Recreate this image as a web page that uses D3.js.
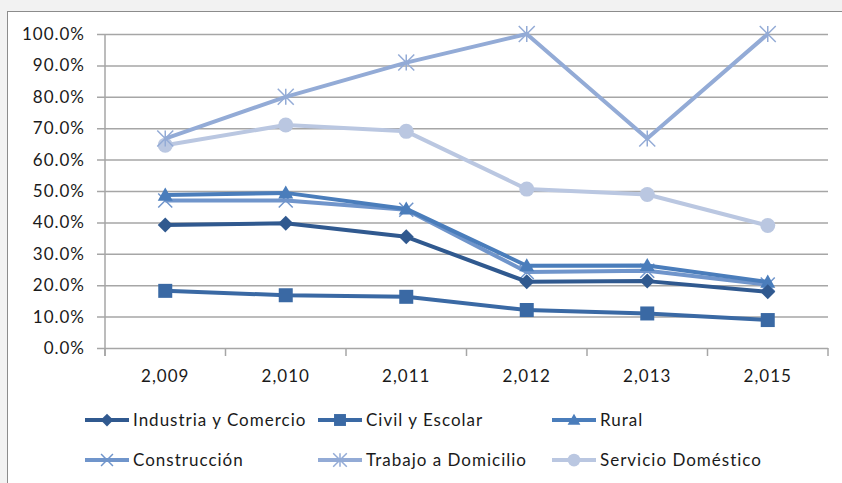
<!DOCTYPE html>
<html>
<head>
<meta charset="utf-8">
<script src="https://cdn.jsdelivr.net/npm/d3@7"></script>
<style>
  body { margin: 0; background: #f2f2f2; }
  text { font-family: Lato, "Open Sans", sans-serif; fill: #1a1a1a; }
</style>
</head>
<body>
<div id="chart"></div>
<script>
// data
const years = ["2,009", "2,010", "2,011", "2,012", "2,013", "2,015"];
const industria = [39.2, 39.7, 35.4, 21.1, 21.3, 17.9];
const civil = [18.2, 16.8, 16.3, 12.1, 11.0, 8.9];
const rural = [48.7, 49.4, 44.3, 26.2, 26.3, 21.0];
const construccion = [47.0, 47.0, 44.0, 24.2, 24.6, 20.2];
const trabajo = [66.7, 80.0, 90.9, 100.0, 66.7, 100.0];
const servicio = [64.6, 71.0, 69.0, 50.6, 48.9, 39.0];
const yTicks = [0, 10, 20, 30, 40, 50, 60, 70, 80, 90, 100];

const series = [
  { name: "Industria y Comercio", values: industria, color: "#30598f", marker: "diamond" },
  { name: "Civil y Escolar", values: civil, color: "#3a69a4", marker: "square" },
  { name: "Rural", values: rural, color: "#4a7dbb", marker: "triangle" },
  { name: "Construcción", values: construccion, color: "#7095cb", marker: "x" },
  { name: "Trabajo a Domicilio", values: trabajo, color: "#93abd6", marker: "star" },
  { name: "Servicio Doméstico", values: servicio, color: "#bac7e1", marker: "circle" }
];

const W = 842, H = 483;
const margin = { top: 34, right: 14, bottom: 135, left: 105 };
const width = 828 - margin.left;
const height = 348 - margin.top;

const svg = d3.select("#chart").append("svg")
  .attr("width", W).attr("height", H);

// chart frame
svg.append("rect")
  .attr("x", 7.5).attr("y", 11.5)
  .attr("width", W).attr("height", H)
  .attr("fill", "#fff")
  .attr("stroke", "#8c8c8c");

const g = svg.append("g")
  .attr("transform", "translate(" + margin.left + "," + margin.top + ")");

const x = d3.scaleBand().domain(years).range([0, width]);
const y = d3.scaleLinear().domain([0, 100]).range([height, 0]);

// gridlines + y axis
const yAxis = g.append("g")
  .call(d3.axisLeft(y).tickValues(yTicks).tickSize(8).tickFormat(d => d.toFixed(1) + "%"));
yAxis.select(".domain").remove();
yAxis.selectAll(".tick line")
  .attr("x2", width).attr("x1", -8)
  .attr("stroke", "#a6a6a6").attr("stroke-width", 1.5);
yAxis.selectAll("text")
  .attr("x", -20)
  .style("font-size", "17px")
  .style("letter-spacing", "1px")
  .style("font-family", "Lato, sans-serif")
  .attr("fill", "#1a1a1a");

// x axis
const xAxis = g.append("g")
  .attr("transform", "translate(0," + height + ")")
  .call(d3.axisBottom(x).tickSize(0).tickPadding(22));
xAxis.select(".domain").remove();
xAxis.selectAll("text")
  .style("font-size", "17px")
  .style("letter-spacing", "1px")
  .style("font-family", "Lato, sans-serif")
  .attr("fill", "#1a1a1a");
// category boundary ticks
const bounds = d3.range(years.length + 1).map(i => i * x.step());
g.selectAll(".xtick").data(bounds).enter().append("line")
  .attr("x1", d => d).attr("x2", d => d)
  .attr("y1", height).attr("y2", height + 8)
  .attr("stroke", "#a6a6a6").attr("stroke-width", 1.5);
g.append("line")
  .attr("x1", 0).attr("x2", 0).attr("y1", 0).attr("y2", height + 8)
  .attr("stroke", "#a6a6a6").attr("stroke-width", 1.5);

// marker drawing
function drawMarker(sel, type, color, s) {
  const r = s / 2;
  if (type === "diamond") {
    sel.append("path").attr("d", `M0,${-r}L${r},0L0,${r}L${-r},0Z`).attr("fill", color);
  } else if (type === "square") {
    sel.append("rect").attr("x", -r).attr("y", -r).attr("width", s).attr("height", s).attr("fill", color);
  } else if (type === "triangle") {
    sel.append("path").attr("d", `M0,${-r}L${r},${r * 0.75}L${-r},${r * 0.75}Z`).attr("fill", color);
  } else if (type === "circle") {
    sel.append("circle").attr("r", r).attr("fill", color);
  } else if (type === "x") {
    sel.append("path").attr("d", `M${-r},${-r}L${r},${r}M${-r},${r}L${r},${-r}`)
      .attr("stroke", color).attr("stroke-width", 1.5);
  } else if (type === "star") {
    sel.append("path").attr("d", `M${-r},${-r}L${r},${r}M${-r},${r}L${r},${-r}M0,${-r}L0,${r}`)
      .attr("stroke", color).attr("stroke-width", 1.5);
  }
}

const sizes = { diamond: 15, square: 14, triangle: 15, circle: 15, x: 14, star: 16 };

const line = d3.line()
  .x((d, i) => x(years[i]) + x.bandwidth() / 2)
  .y(d => y(d));

// draw series from last to first so darker lines stay on top
series.slice().reverse().forEach(s => {
  g.append("path")
    .datum(s.values)
    .attr("fill", "none")
    .attr("stroke", s.color)
    .attr("stroke-width", 4)
    .attr("stroke-linejoin", "round")
    .attr("d", line);
  g.selectAll(null).data(s.values).enter().append("g")
    .attr("transform", (d, i) => "translate(" + (x(years[i]) + x.bandwidth() / 2) + "," + y(d) + ")")
    .each(function () { drawMarker(d3.select(this), s.marker, s.color, sizes[s.marker]); });
});

// legend
const legX = [85, 318, 552];
const legY = [420, 460];
series.forEach((s, i) => {
  const lg = svg.append("g")
    .attr("transform", "translate(" + legX[i % 3] + "," + legY[Math.floor(i / 3)] + ")");
  lg.append("line").attr("x1", 0).attr("x2", 44)
    .attr("stroke", s.color).attr("stroke-width", 4);
  const m = lg.append("g").attr("transform", "translate(22,0)");
  drawMarker(m, s.marker, s.color, sizes[s.marker] * 0.85);
  lg.append("text").attr("x", 48).attr("dy", "0.35em")
    .style("font-size", "17px")
    .style("letter-spacing", "1px")
    .text(s.name);
});
</script>
</body>
</html>
